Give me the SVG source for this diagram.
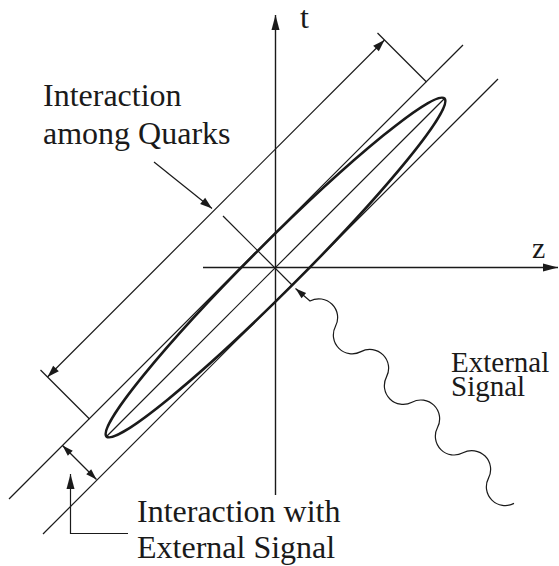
<svg xmlns="http://www.w3.org/2000/svg" width="559" height="566" viewBox="0 0 559 566">
<style>
  .ln{fill:none;stroke:#1a1a1a;stroke-width:1.2}
  .ax{fill:none;stroke:#1a1a1a;stroke-width:1.4}
  .el{fill:none;stroke:#1a1a1a;stroke-width:2.6}
  .tx{font-family:"Liberation Serif","Times New Roman",serif;font-size:32px;fill:#1a1a1a}
  .sm{font-size:29px}
</style>
<defs>
  <marker id="arr" markerUnits="userSpaceOnUse" markerWidth="13" markerHeight="9" refX="12" refY="4" orient="auto-start-reverse" overflow="visible">
    <path d="M0,0 L12,4 L0,8 Z" fill="#1a1a1a"/>
  </marker>
  <marker id="arrs" markerUnits="userSpaceOnUse" markerWidth="11" markerHeight="8" refX="11" refY="3.5" orient="auto-start-reverse" overflow="visible">
    <path d="M0,0 L11,3.5 L0,7 Z" fill="#1a1a1a"/>
  </marker>
  <marker id="arrx" markerUnits="userSpaceOnUse" markerWidth="16" markerHeight="9" refX="15" refY="4" orient="auto-start-reverse" overflow="visible">
    <path d="M0,0 L15,4 L0,8 Z" fill="#1a1a1a"/>
  </marker>
</defs>
<rect width="559" height="566" fill="#ffffff"/>

<g id="axes">
  <path class="ax" d="M275.5,495 L275.5,15" marker-end="url(#arrx)"/>
  <path class="ax" d="M203,267.5 L558,267.5" marker-end="url(#arrx)"/>
  <text class="tx" x="300" y="28">t</text>
  <text class="tx" x="532" y="258" style="font-size:30px">z</text>
</g>

<g id="bands">
  <path class="ln" d="M9,499 L463,45"/>
  <path class="ln" d="M43,534 L498,79"/>
  <path class="ln" d="M106.5,436.5 L444.5,98.5"/>
  <path class="ln" d="M223,216 L292,285"/>
</g>

<g id="ellipse">
  <ellipse class="el" cx="275.5" cy="267.5" rx="239" ry="24.3" transform="rotate(-45 275.5 267.5)"/>
</g>

<g id="connectors">
  <path class="ln" d="M47.5,377 L384.5,40" marker-start="url(#arr)" marker-end="url(#arr)"/>
  <path class="ln" d="M377.5,33 L426.5,82"/>
  <path class="ln" d="M40.5,370 L89.5,419"/>
  <path class="ln" d="M154,162 L212,208.5" marker-end="url(#arr)"/>
  <path class="ln" d="M62.5,445.5 L96.5,479.5" marker-start="url(#arrs)" marker-end="url(#arrs)"/>
  <path class="ln" d="M128,533.5 L70.5,533.5 L70.5,474" marker-end="url(#arrx)"/>
  <path class="ln" d="M295.5,288.5 L310,301 a18.8,18.8 0 0 1 25.5,25.3 a18.8,18.8 0 0 0 25.5,25.3 a18.8,18.8 0 0 1 25.5,25.3 a18.8,18.8 0 0 0 25.5,25.3 a18.8,18.8 0 0 1 25.5,25.3 a18.8,18.8 0 0 0 25.5,25.3 a18.8,18.8 0 0 1 25.5,25.3 a18.8,18.8 0 0 0 25.5,25.3" marker-start="url(#arrs)"/>
</g>

<g id="label-quarks">
  <text class="tx" x="43" y="106">Interaction</text>
  <text class="tx" x="43" y="144">among Quarks</text>
</g>
<g id="label-signal">
  <text class="tx sm" x="451" y="372">External</text>
  <text class="tx sm" x="451" y="396">Signal</text>
</g>
<g id="label-interaction">
  <text class="tx" x="137" y="522">Interaction with</text>
  <text class="tx" x="137" y="558">External Signal</text>
</g>
</svg>
